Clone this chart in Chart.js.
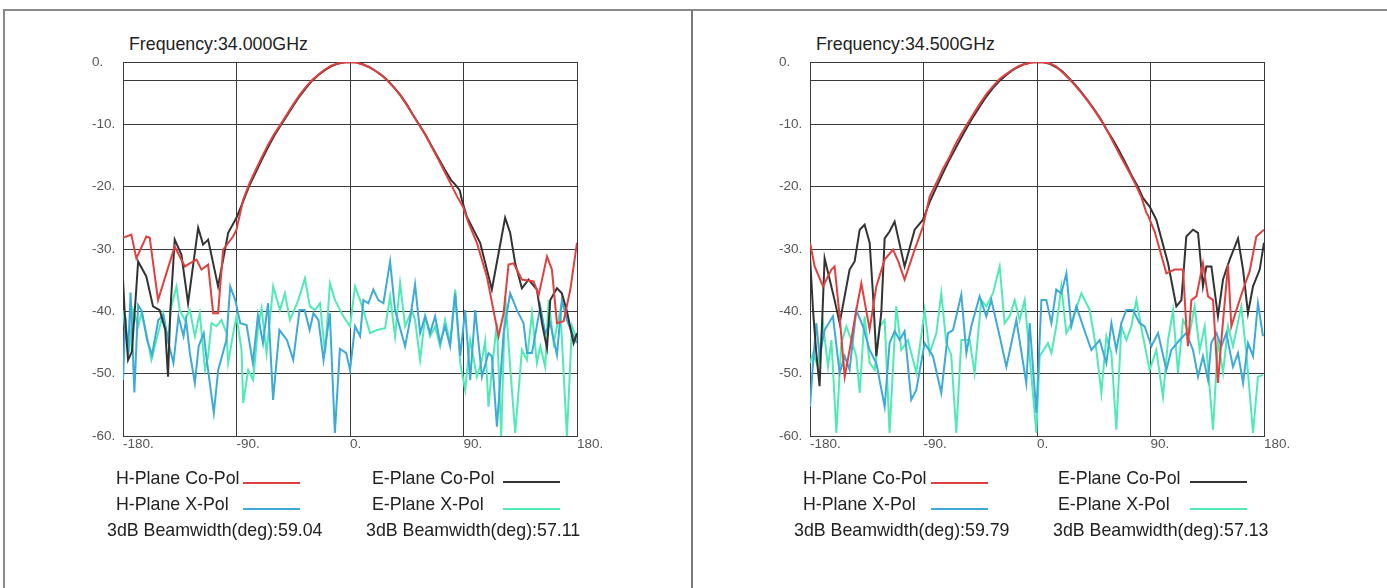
<!DOCTYPE html>
<html>
<head>
<meta charset="utf-8">
<script src="https://cdn.jsdelivr.net/npm/chart.js@4.4.1/dist/chart.umd.min.js"></script>
<style>
  body { margin: 0; background: #fff; width: 1387px; height: 588px; overflow: hidden; position: relative;
         font-family: "Liberation Sans", Arial, sans-serif; color: #222; }
  #frame { position: absolute; left: 3px; top: 9px; width: 1390px; height: 600px;
           border-top: 2px solid #8a8a8a; border-left: 2px solid #8a8a8a; }
  #divider { position: absolute; left: 691px; top: 10px; width: 2px; height: 580px; background: #7a7a7a; }
  canvas { position: absolute; }
  .title { position: absolute; font-size: 17.8px; line-height: 20px; top: 34px; white-space: nowrap; }
  .lg { position: absolute; font-size: 17.8px; line-height: 26px; white-space: nowrap; }
  .sw { position: absolute; height: 2px; width: 57px; }
</style>
</head>
<body>
<div id="frame"></div>
<div id="divider"></div>

<div class="title" style="left:129px">Frequency:34.000GHz</div>
<canvas id="chart34" width="560" height="430" style="left:60px;top:40px"></canvas>
<div class="lg" style="left:116px;top:465px">H-Plane Co-Pol</div>
<div class="sw" style="left:243px;top:482px;background:#e0403f"></div>
<div class="lg" style="left:372px;top:465px">E-Plane Co-Pol</div>
<div class="sw" style="left:503px;top:481px;background:#333"></div>
<div class="lg" style="left:116px;top:491px">H-Plane X-Pol</div>
<div class="sw" style="left:243px;top:508px;background:#3eaad6"></div>
<div class="lg" style="left:372px;top:491px">E-Plane X-Pol</div>
<div class="sw" style="left:503px;top:508px;background:#50eab5"></div>
<div class="lg" style="left:107px;top:517px">3dB Beamwidth(deg):59.04</div>
<div class="lg" style="left:366px;top:517px">3dB Beamwidth(deg):57.11</div>

<div class="title" style="left:816px">Frequency:34.500GHz</div>
<canvas id="chart345" width="560" height="430" style="left:747px;top:40px"></canvas>
<div class="lg" style="left:803px;top:465px">H-Plane Co-Pol</div>
<div class="sw" style="left:931px;top:482px;background:#e0403f"></div>
<div class="lg" style="left:1058px;top:465px">E-Plane Co-Pol</div>
<div class="sw" style="left:1190px;top:481px;background:#333"></div>
<div class="lg" style="left:803px;top:491px">H-Plane X-Pol</div>
<div class="sw" style="left:931px;top:508px;background:#3eaad6"></div>
<div class="lg" style="left:1058px;top:491px">E-Plane X-Pol</div>
<div class="sw" style="left:1190px;top:508px;background:#50eab5"></div>
<div class="lg" style="left:794px;top:517px">3dB Beamwidth(deg):59.79</div>
<div class="lg" style="left:1053px;top:517px">3dB Beamwidth(deg):57.13</div>

<script>
    // [angle deg, level dB]
    const hCo34 = [[-180,-28.2],[-173.4,-27.7],[-169.4,-31.5],[-161.5,-28],[-158.8,-28.2],[-152.2,-38.2],[-139,-29.6],[-131,-32.8],[-127,-32.3],[-121.7,-31.7],[-117.8,-33.3],[-112.5,-32.5],[-108.5,-40.3],[-104.6,-40.3],[-100.6,-30.1],[-92.7,-28],[-90,-26.9],[-84.7,-22.1],[-80,-19.6],[-75,-17.4],[-70,-15.3],[-65,-13.3],[-60,-11.5],[-55,-10],[-50,-8.4],[-45,-6.8],[-40,-5.3],[-35,-4],[-30,-2.9],[-25,-2],[-20,-1.2],[-15,-0.6],[-10,-0.25],[-5,-0.05],[0,0],[5,-0.1],[10,-0.4],[15,-0.8],[20,-1.4],[25,-2.1],[30,-3],[35,-4.1],[40,-5.4],[45,-6.9],[50,-8.5],[55,-10.1],[60,-11.8],[65,-13.7],[70,-15.6],[75,-17.6],[80,-19.6],[85,-21.6],[90,-23.4],[94,-25.8],[100.6,-29],[108.5,-34.4],[117.8,-44],[121.8,-40.3],[125.7,-32.5],[129.7,-32.3],[136.3,-34.9],[145.6,-35.2],[149.6,-37.4],[156.2,-31.2],[160.1,-33.3],[164.1,-41.9],[169.4,-41.6],[174.7,-36.5],[180,-29]];
    const eCo34 = [[-180,-34.9],[-178.7,-40],[-176,-47.8],[-173,-46.5],[-170,-38],[-168,-32],[-161.5,-34.4],[-156.2,-39.2],[-150.9,-39.8],[-146.5,-43],[-144.3,-50.5],[-142.5,-40],[-139,-28.5],[-133.7,-30.9],[-128.4,-38.7],[-124,-32],[-120.4,-26.6],[-116.5,-29.3],[-112.5,-28.5],[-104.6,-36],[-96.6,-27.4],[-90,-25],[-85,-22.5],[-80,-19.9],[-75,-17.8],[-70,-15.7],[-65,-13.7],[-60,-11.8],[-55,-10.2],[-50,-8.6],[-45,-7],[-40,-5.5],[-35,-4.2],[-30,-3],[-25,-2.1],[-20,-1.3],[-15,-0.7],[-10,-0.3],[-5,-0.1],[0,0],[5,-0.05],[10,-0.35],[15,-0.8],[20,-1.4],[25,-2.1],[30,-3],[35,-4.1],[40,-5.3],[45,-6.8],[50,-8.5],[55,-10.1],[60,-11.7],[65,-13.6],[70,-15.4],[75,-17.2],[80,-18.9],[84,-19.8],[87,-20.6],[88.7,-22.1],[92.6,-24.8],[103.2,-29],[112.5,-36.5],[123,-25],[127,-27.4],[131,-32.3],[136.3,-36.3],[141.6,-34.9],[148.2,-36.5],[152.2,-41.9],[156.2,-45.9],[158.8,-38.2],[164.1,-36.3],[168,-37.1],[172,-40],[177.3,-45.1],[180,-43.5]];
    const hX34 = [[-180,-51],[-178,-41],[-176,-47],[-174,-37],[-171,-53],[-168,-39],[-165,-40],[-161,-44.5],[-157,-47],[-152,-41.4],[-148,-40.6],[-144,-45],[-140,-48.3],[-136,-40.8],[-132,-44],[-130,-41.4],[-127,-46.7],[-123,-51.5],[-120,-45.6],[-116,-43.5],[-114,-47.2],[-108,-56.3],[-104.5,-49.4],[-98,-44.6],[-95,-36],[-91,-38.2],[-87,-41.9],[-82,-42.2],[-77,-48.3],[-73,-40.6],[-69,-45.1],[-65,-38.7],[-61,-54.2],[-56,-43],[-50,-44.6],[-45,-47.8],[-40,-39.8],[-36,-39.8],[-32,-43],[-29,-40.3],[-25,-41.4],[-21,-47.8],[-16,-40.3],[-12,-59.5],[-8,-46],[-3,-46.7],[0,-49.4],[4,-42.4],[8,-44],[10.6,-38.2],[14.6,-38.7],[18.5,-36.5],[22.5,-38.2],[26.5,-38.7],[31.8,-32],[35.7,-39.8],[43.7,-45.6],[47.6,-41.4],[51.6,-35.7],[55.6,-43.5],[59.6,-40.8],[63.5,-43.5],[67.5,-40.8],[71.5,-45.1],[75.4,-42.4],[79.4,-45.6],[83.4,-37.1],[87.4,-47.2],[91.3,-39.8],[95.3,-51],[99.3,-39.8],[104.6,-50.5],[109.8,-46.7],[112.5,-47.2],[116.5,-58.5],[121.8,-43.5],[127,-37.1],[132.4,-39.8],[137.6,-41.9],[140.3,-46.7],[144.3,-46.7],[150.9,-39.2],[154.8,-43.5],[158.8,-41.9],[164.1,-47],[168,-38.2],[172,-41.4],[176,-43.5],[180,-45.1]];
    const eX34 = [[-180,-39.8],[-177.3,-44.6],[-175,-46],[-172,-39.8],[-168,-42.4],[-165.4,-40.3],[-161.5,-43.5],[-157.5,-47.8],[-153.5,-44.6],[-148.2,-40.3],[-144.3,-44.6],[-141.6,-39.2],[-137.6,-36],[-135,-39.8],[-131,-41.4],[-127,-39.8],[-123,-44],[-119.1,-40.3],[-115,-49.4],[-112.5,-47.2],[-109.8,-41.9],[-105.9,-42.4],[-101.9,-41.4],[-97.9,-43.5],[-96.6,-48.3],[-92.6,-43.5],[-90,-40.8],[-86,-46.2],[-84.7,-54.7],[-80.7,-49.4],[-76.8,-51],[-72.8,-42.4],[-70.1,-39.5],[-66.2,-46.7],[-60.9,-36],[-55.6,-39.8],[-51.6,-37.1],[-47.6,-41.4],[-41,-38.2],[-35.7,-34.7],[-31.8,-39.2],[-27.8,-39.8],[-23.8,-38.7],[-19.8,-46.7],[-15.9,-35.5],[-11.9,-38.2],[-5.3,-40.8],[0,-42.4],[4,-36],[8,-38.2],[12,-40.8],[15.9,-43.5],[21.2,-43],[27.8,-42.7],[31.8,-37.6],[35.7,-44],[39.7,-35.5],[43.7,-42.4],[49,-39.8],[51.6,-41.4],[55.6,-47.8],[59.6,-40.8],[63.5,-44],[67.5,-42.4],[71.5,-45.6],[75.4,-41.4],[79.4,-45.1],[83.4,-36.5],[87.4,-48.3],[91.3,-52.6],[95.3,-44.6],[100.6,-50.5],[104.6,-47.8],[107.2,-44.8],[109.8,-55.3],[112.5,-49.4],[116.5,-41.9],[119.9,-60],[123.1,-37.6],[127,-48.9],[131,-59.5],[136.3,-46.2],[140.3,-47.8],[144.3,-40.3],[148.2,-48.3],[150.9,-45.6],[154.8,-48.9],[157.5,-38.2],[161.5,-45.1],[166.8,-39.8],[172,-60],[176,-42.4],[180,-44.6]];

    const hCo345 = [[-180,-29],[-176.3,-32.8],[-169.7,-36],[-163,-33.3],[-160.5,-32.8],[-156.5,-40.8],[-152.5,-50.5],[-148.6,-46.2],[-143.3,-39.8],[-139.3,-35.5],[-132.7,-42.9],[-127.4,-36],[-120.8,-31.7],[-114.2,-30.1],[-110,-32],[-105,-34.9],[-97,-30.1],[-90.4,-26.4],[-85.1,-21.6],[-80,-19.5],[-75,-17.3],[-69.3,-15.2],[-65,-13.3],[-60,-11.5],[-53.4,-9.3],[-50,-8.2],[-45,-6.6],[-40,-5.1],[-35,-3.9],[-30,-2.8],[-27,-2.3],[-20,-1.3],[-15,-0.7],[-11.1,-0.4],[-5,-0.1],[0,0],[5,-0.05],[10,-0.2],[15,-0.7],[20,-1.6],[25,-2.6],[28.6,-3.4],[35,-4.9],[40,-6.2],[45,-7.6],[52.3,-9.8],[57,-11.5],[62,-13.5],[67,-15.4],[73.5,-17.8],[78,-19.6],[83,-21.8],[86.7,-24.2],[88,-24.6],[93.3,-27.2],[102.6,-33.9],[109.2,-33.3],[115.8,-33.3],[118.4,-42.4],[119.7,-45.6],[122.4,-38.2],[126.4,-37.6],[131.6,-32.3],[135.6,-37.6],[139.6,-38.2],[143.5,-51.5],[146.2,-44.6],[151.5,-32.5],[154.1,-42.4],[158.1,-39.8],[163.4,-36.5],[168.6,-33.6],[173.9,-28],[180,-26.9]];
    const eCo345 = [[-180,-31.2],[-177.6,-39.8],[-175,-46.7],[-172.4,-52],[-168.4,-31.5],[-164.4,-34.9],[-160.5,-38.2],[-156.5,-41.9],[-148.6,-33.3],[-144.6,-32],[-140.6,-26.9],[-136.7,-26.1],[-132.7,-29],[-130.1,-37.1],[-127.4,-47.2],[-123.5,-40.3],[-120.8,-28.3],[-116.9,-27.2],[-112.9,-25.6],[-105,-32.8],[-97,-26.9],[-90.4,-25.3],[-85,-22.4],[-80,-20.2],[-75,-18],[-70,-15.9],[-65,-14],[-60,-12.1],[-55,-10.3],[-50,-8.6],[-45,-7],[-40,-5.5],[-35,-4.2],[-30,-3.1],[-25,-2.2],[-20,-1.4],[-15,-0.8],[-10,-0.35],[-5,-0.1],[0,0],[5,-0.05],[10,-0.3],[15,-0.8],[20,-1.5],[25,-2.5],[30,-3.6],[35,-4.8],[40,-6.1],[45,-7.5],[50,-9],[55,-10.8],[60,-12.4],[65,-14.2],[70,-16.1],[75,-18.2],[80,-20],[84,-21.8],[89.3,-23.2],[94.6,-25.3],[103.9,-32.3],[110.5,-39.2],[114.5,-38.2],[118.4,-28],[123.7,-26.9],[127.7,-27.4],[131.6,-36],[134.3,-32.8],[138.3,-32.8],[143.5,-40.8],[147.5,-34.9],[152.8,-31.7],[159.4,-28.3],[163.4,-33.3],[167.3,-40.3],[171.3,-36],[176.6,-33.3],[180,-29]];
    const hX345 = [[-180,-55.3],[-177.6,-48.3],[-175,-41.9],[-172.4,-47.2],[-168.4,-43],[-161.8,-40.8],[-156.5,-49.9],[-152.5,-47.2],[-148.6,-49.4],[-143.3,-39.8],[-138,-42.4],[-132.7,-46.2],[-127.4,-48.3],[-120.8,-55.3],[-116.9,-45.1],[-112.9,-43.2],[-108.9,-44.6],[-105,-43.2],[-99.7,-54.2],[-95.7,-52.6],[-89.1,-45.1],[-82.5,-47.2],[-75.9,-53.1],[-70.6,-43.5],[-66.6,-43],[-60,-37.3],[-56,-46.7],[-52.1,-42.4],[-45.5,-37.6],[-40.2,-40.8],[-36.2,-38.2],[-29.6,-44],[-24.3,-48.9],[-16.4,-41.4],[-8.5,-51.5],[-5.8,-41.9],[-0.5,-56.3],[3.5,-38.2],[7.4,-38.2],[11.4,-41.9],[15.3,-36.5],[19.3,-37.1],[23.3,-33.9],[27.2,-42.4],[31.2,-39.2],[36.5,-42.4],[43.1,-46.2],[49.7,-44.6],[55,-48.3],[59,-41.9],[62.9,-46.2],[66.9,-41.9],[70.9,-39.8],[76.1,-39.8],[81.4,-41.9],[85.4,-42.4],[90.7,-45.6],[96,-43.5],[102.6,-49.4],[106.5,-46.2],[113.1,-44.6],[118.4,-43.5],[123.7,-46.2],[127.7,-50.5],[131.6,-47.2],[135.6,-51],[138.2,-45.1],[142.2,-43.5],[146.2,-45.6],[150.1,-43.5],[155.4,-48.9],[159.4,-46.7],[163.4,-51.5],[167.3,-45.1],[171.3,-47.2],[175.2,-38.7],[179.2,-44]];
    const eX345 = [[-180,-48.3],[-177.6,-46.7],[-173.7,-48.9],[-169.7,-41.9],[-165.7,-48.9],[-163,-44.6],[-159.1,-59.5],[-155.2,-45.1],[-151.2,-42.4],[-147.2,-44.6],[-143.3,-47.2],[-140.6,-53.1],[-136.7,-40.8],[-132.7,-48.3],[-128.7,-49.4],[-124.8,-42.4],[-120.8,-41.4],[-116.9,-59.5],[-111.6,-39.2],[-107.6,-46.2],[-102.3,-44.6],[-95.7,-49.9],[-89.1,-39.8],[-85.1,-46.7],[-79.8,-43.5],[-75.9,-37.1],[-71.9,-45.1],[-68,-47],[-64,-59.5],[-60,-44.6],[-53.4,-44.6],[-49.5,-49.9],[-44.2,-38.2],[-40.2,-39.2],[-34.9,-37.1],[-29.6,-32.8],[-25.7,-41.9],[-21.7,-40.8],[-17.7,-38.2],[-13.8,-41.4],[-9.8,-38.2],[-5.8,-47.2],[-0.5,-59.5],[2.1,-47.2],[8.7,-45.1],[11.4,-46.7],[15.3,-42.4],[19.3,-36],[23.3,-43.5],[27.2,-41.9],[35.2,-37.1],[41.8,-39.8],[47.1,-46.2],[51,-53.1],[55,-44],[59,-46.7],[62.9,-59],[66.9,-42.4],[70.9,-44.6],[74.8,-42.4],[78.8,-38.2],[84,-44],[89.3,-49.4],[94.6,-46.2],[99.9,-53.7],[103.9,-44.6],[107.9,-39.8],[111.8,-49.9],[115.8,-41.4],[121.1,-43.5],[125,-39.2],[129,-46.2],[133,-42.4],[139.6,-59],[143.5,-44.6],[147.5,-49.9],[151.5,-42.4],[155.4,-45.6],[162,-39.2],[166,-46.7],[171.3,-59.5],[175.2,-50.5],[179.2,-50.2]];

    const xTicks = [-180, -90, 0, 90, 180];
    const yTicks = [-60, -50, -40, -30, -20, -10, -3, 0];

    const colors = { hCo: '#e0403f', eCo: '#333333', hX: '#3eaad6', eX: '#50eab5' };

    function line(pairs, color) {
      return {
        data: pairs.map(p => ({ x: p[0], y: p[1] })),
        borderColor: color,
        borderWidth: 2,
        pointRadius: 0,
        tension: 0,
        fill: false
      };
    }

    function createChart(id, hCo, eCo, hX, eX) {
      const ctx = document.getElementById(id).getContext('2d');
      return new Chart(ctx, {
        type: 'line',
        data: {
          datasets: [
            line(hCo, colors.hCo),
            line(eCo, colors.eCo),
            line(hX, colors.hX),
            line(eX, colors.eX)
          ]
        },
        options: {
          responsive: false,
          animation: false,
          devicePixelRatio: 1,
          layout: { padding: { left: 32, top: 22, right: 43, bottom: 0 } },
          plugins: { legend: { display: false }, tooltip: { enabled: false } },
          scales: {
            x: {
              type: 'linear',
              min: -180,
              max: 180,
              afterBuildTicks: s => { s.ticks = xTicks.map(v => ({ value: v })); },
              afterFit: s => { s.height = 34; },
              grid: { color: '#3a3a3a', drawTicks: false },
              border: { color: '#3a3a3a' },
              ticks: {
                align: 'start',
                padding: 0,
                maxRotation: 0,
                color: '#555',
                font: { family: 'Liberation Sans, Arial', size: 13.5 },
                callback: v => v + '.'
              }
            },
            y: {
              min: -60,
              max: 0,
              afterBuildTicks: s => { s.ticks = yTicks.map(v => ({ value: v })); },
              afterFit: s => { s.width = 31; },
              grid: { color: '#3a3a3a', drawTicks: false },
              border: { color: '#3a3a3a' },
              ticks: {
                crossAlign: 'far',
                padding: 0,
                color: '#555',
                font: { family: 'Liberation Sans, Arial', size: 13.5 },
                callback: v => v === -3 ? '' : v + '.'
              }
            }
          }
        }
      });
    }

    createChart('chart34', hCo34, eCo34, hX34, eX34);
    createChart('chart345', hCo345, eCo345, hX345, eX345);
</script>
</body>
</html>
